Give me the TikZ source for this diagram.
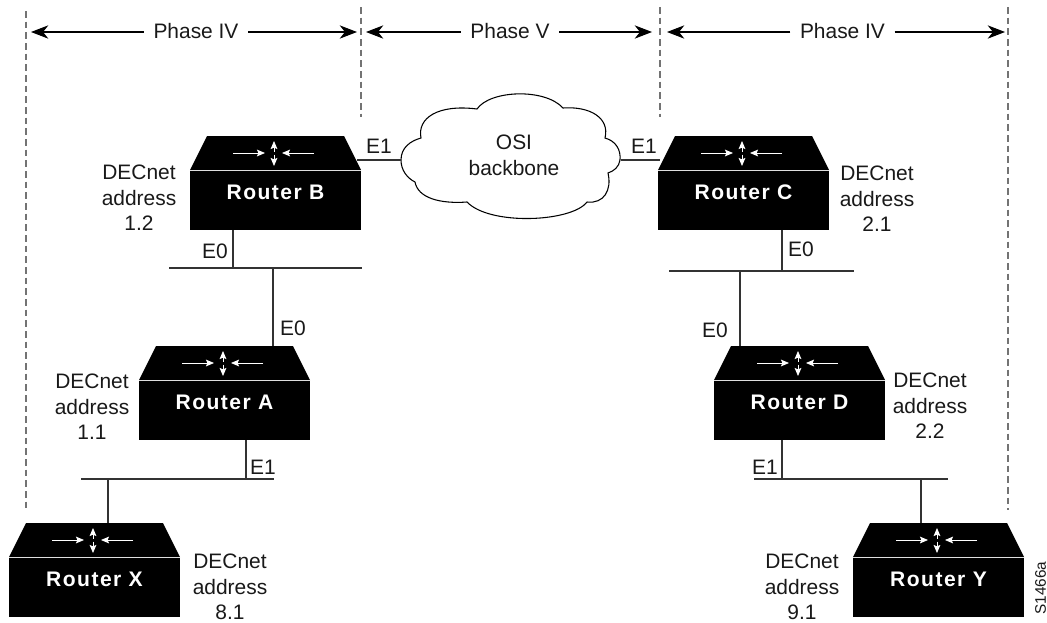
\documentclass[tikz,border=0pt]{standalone}
\usepackage{fontspec}
\setmainfont{Liberation Sans}
\usetikzlibrary{arrows.meta}
\definecolor{ln}{gray}{0.2}
\definecolor{dsh}{gray}{0.45}
\tikzset{
  x=0.75pt,y=-0.75pt,
  wire/.style={draw=ln,line width=0.8pt},
  phaseline/.style={draw=dsh,line width=0.8pt,dash pattern=on 5pt off 3pt},
  spanline/.style={draw=black,line width=0.8pt,-{Stealth[length=13pt,width=10pt,inset=4pt]}},
  lbl/.style={inner sep=0pt,font=\fontsize{15.7pt}{19.1pt}\selectfont,align=center,text=black!90},
  phlbl/.style={lbl,inner xsep=7pt},
  rname/.style={inner sep=0pt,font=\fontsize{15.8pt}{18pt}\selectfont\bfseries\addfontfeature{LetterSpace=7},text=white},
  rbody/.style={fill=black,inner sep=0pt,minimum width=128.25pt,minimum height=44.25pt},
  flowa/.style={draw=white,line width=0.6pt,-{Stealth[length=6pt,width=5pt,inset=1pt]}},
}
\newcommand{\router}[3]{% name, left x, top y
  \begin{scope}[shift={(#2,#3)}]
    \fill[black] (17,0) -- (154,0) -- (171,34) -- (0,34) -- cycle;
    \node[rbody] (r#1) at (85.5,64.5) {};
    \draw[flowa] (43,17) -- (75,17);
    \draw[flowa] (124,17) -- (92,17);
    \draw[flowa] (84,15.5) -- (84,5);
    \draw[flowa] (84,18.5) -- (84,30);
    \node[rname] (t#1) at (85.5,56.5) {Router #1};
  \end{scope}}
\begin{document}
\begin{tikzpicture}
\useasboundingbox (0,0) rectangle (1047,622);
\fill[white] (0,0) rectangle (1047,622);
% phase boundaries
\coordinate (p1t) at (26,11); \coordinate (p1b) at (26,510);
\coordinate (p2t) at (361,7); \coordinate (p2b) at (361,117);
\coordinate (p3t) at (660,7); \coordinate (p3b) at (660,117);
\coordinate (p4t) at (1008,7); \coordinate (p4b) at (1008,510);
\draw[phaseline] (p1t) -- (p1b);
\draw[phaseline] (p2t) -- (p2b);
\draw[phaseline] (p3t) -- (p3b);
\draw[phaseline] (p4t) -- (p4b);
% spans
\node[phlbl] (ph1) at (196,31) {Phase IV};
\node[phlbl] (ph2) at (510,31) {Phase V};
\node[phlbl] (ph3) at (842.5,31) {Phase IV};
\coordinate (a1l) at (31,32); \coordinate (a1r) at (357,32);
\coordinate (a2l) at (366,32); \coordinate (a2r) at (652,32);
\coordinate (a3l) at (667,32); \coordinate (a3r) at (1005,32);
\draw[spanline] (ph1.west |- a1l) -- (a1l);
\draw[spanline] (ph1.east |- a1r) -- (a1r);
\draw[spanline] (ph2.west |- a2l) -- (a2l);
\draw[spanline] (ph2.east |- a2r) -- (a2r);
\draw[spanline] (ph3.west |- a3l) -- (a3l);
\draw[spanline] (ph3.east |- a3r) -- (a3r);
% cloud
\draw[black,line width=0.8pt] (401,160)
 .. controls (401,148) and (410,141) .. (421,138)
 .. controls (417,118) and (438,104) .. (477,109)
 .. controls (490,90) and (545,88) .. (563,108)
 .. controls (590,106) and (610,118) .. (605,138)
 .. controls (616,141) and (621,150) .. (620,160)
 .. controls (619,167) and (614,171) .. (608,173)
 .. controls (612,190) and (604,204) .. (587,202)
 .. controls (572,222) and (490,226) .. (467,202)
 .. controls (440,204) and (418,198) .. (415,182)
 .. controls (407,178) and (401,170) .. (401,160) -- cycle;
\coordinate (cl) at (401,160); \coordinate (cr) at (621,160);
\node[lbl] (cloudt) at (514,155.5) {OSI\\backbone};
% routers
\router{B}{190}{136}
\router{C}{658}{136}
\router{A}{139}{346}
\router{D}{714}{346}
\router{X}{9}{523}
\router{Y}{853}{523}
% buses
\coordinate (bbl) at (169,268); \coordinate (bbr) at (362,268);
\coordinate (acl) at (81,479); \coordinate (acr) at (274,479);
\coordinate (cbl) at (669,271); \coordinate (cbr) at (854,271);
\coordinate (dbl) at (754,479); \coordinate (dbr) at (948,479);
\draw[wire] (bbl) -- (bbr);
\draw[wire] (acl) -- (acr);
\draw[wire] (cbl) -- (cbr);
\draw[wire] (dbl) -- (dbr);
% wires
\draw[wire] (357,160) -- (cl);
\draw[wire] (cr) -- (660,160);
\draw[wire] (rB.south -| 233,0) -- (233,0 |- bbl);
\draw[wire] (273,0 |- bbl) -- (273,346);
\draw[wire] (rA.south -| 246,0) -- (246,0 |- acl);
\draw[wire] (108,0 |- acl) -- (108,523);
\draw[wire] (rC.south -| 782,0) -- (782,0 |- cbl);
\draw[wire] (740,0 |- cbl) -- (740,346);
\draw[wire] (rD.south -| 782,0) -- (782,0 |- dbl);
\draw[wire] (921,0 |- dbl) -- (921,523);
% interface labels
\node[lbl] (l1) at (379,146) {E1};
\node[lbl] (l2) at (644,146) {E1};
\node[lbl] (l3) at (215,251) {E0};
\node[lbl] (l4) at (801,249) {E0};
\node[lbl] (l5) at (293,328) {E0};
\node[lbl] (l6) at (715,330) {E0};
\node[lbl] (l7) at (263,467) {E1};
\node[lbl] (l8) at (765,467) {E1};
% addresses
\node[lbl] (d1) at (139,198) {DECnet\\address\\1.2};
\node[lbl] (d2) at (877,199) {DECnet\\address\\2.1};
\node[lbl] (d3) at (92,407) {DECnet\\address\\1.1};
\node[lbl] (d4) at (930,406) {DECnet\\address\\2.2};
\node[lbl] (d5) at (230,587) {DECnet\\address\\8.1};
\node[lbl] (d6) at (802,587) {DECnet\\address\\9.1};
\node[lbl,rotate=90,font=\fontsize{11.5pt}{13pt}\selectfont] (sid) at (1040.5,588) {S1466a};
\end{tikzpicture}
\end{document}
